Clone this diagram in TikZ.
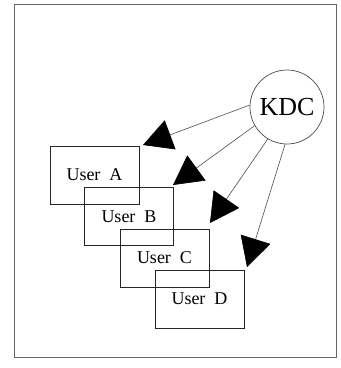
\documentclass[tikz,border=0pt]{standalone}
\usepackage{fontspec}
\setmainfont{Liberation Serif}
\usetikzlibrary{arrows.meta}
\begin{document}
\begin{tikzpicture}[x=1pt,y=-1pt,
  userbox/.style={draw=black!85,line width=0.8pt,minimum width=89pt,minimum height=58pt,inner sep=0pt,font=\fontsize{18}{20}\selectfont},
  link/.style={draw=black!70,line width=0.6pt,-{Triangle[length=29pt,width=31pt,color=black,fill=black]}}]
\useasboundingbox (0,0) rectangle (341,368);
\draw[draw=black!60,line width=1pt] (15,4) rectangle (337,357);
\node[userbox] (A) at (94.5,175) {User\hspace{0.5em}A};
\node[userbox] (B) at (129,216.5) {User\hspace{0.5em}B};
\node[userbox] (C) at (164.5,258) {User\hspace{0.5em}C};
\node[userbox] (D) at (199.5,299) {User\hspace{0.5em}D};
\node[circle,draw=black!70,line width=0.7pt,minimum size=74pt,inner sep=0pt,font=\fontsize{26}{28}\selectfont] (kdc) at (287,107) {KDC};
\coordinate (t1) at (143,145);
\coordinate (t2) at (173,185);
\coordinate (t3) at (210,223);
\coordinate (t4) at (247,267);
\draw[link] (kdc.177) -- (t1);
\draw[link] (kdc.210) -- (t2);
\draw[link] (kdc.239) -- (t3);
\draw[link] (kdc.267) -- (t4);
\end{tikzpicture}
\end{document}
